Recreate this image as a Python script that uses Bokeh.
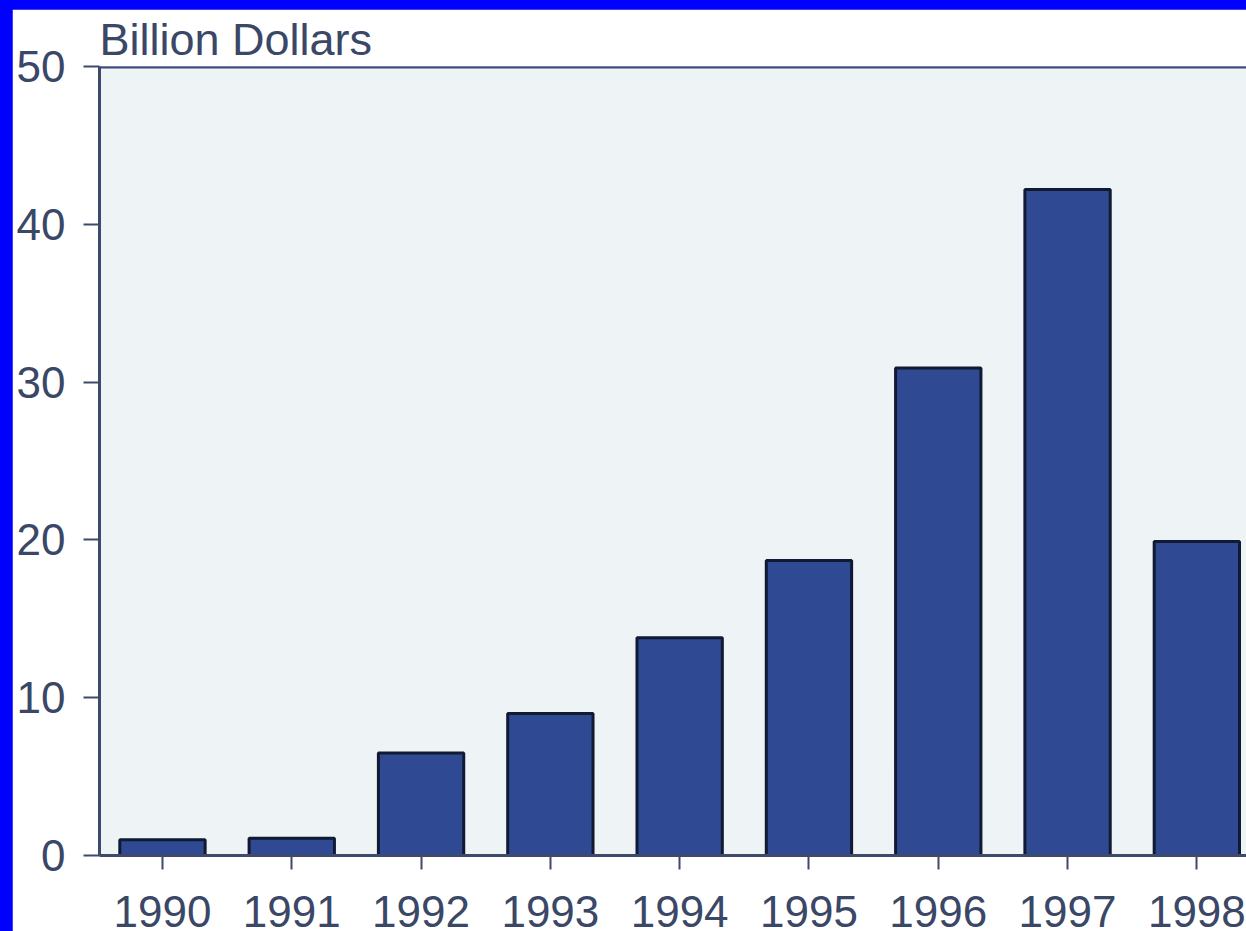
from bokeh.plotting import figure
from bokeh.models import Range1d, FixedTicker, Span, GlobalInlineStyleSheet
from bokeh.embed import file_html
from bokeh.resources import INLINE

years = [1990, 1991, 1992, 1993, 1994, 1995, 1996, 1997, 1998]
year_labels = [str(y) for y in years]
values = [1.0, 1.1, 6.5, 9.0, 13.8, 18.7, 30.9, 42.2, 19.9]
y_ticks = [0, 10, 20, 30, 40, 50]
unit_label = "Billion Dollars"

TEXT = "#3a4766"
AXIS = "#3d4a6b"
FONT = "Liberation Sans"

x_start = years[0] - 0.487
x_end = years[-1] + 0.384

p = figure(width=1234, height=922, output_backend="svg", toolbar_location=None,
           x_range=Range1d(x_start, x_end), y_range=Range1d(0, 50),
           min_border_left=87, min_border_top=57, min_border_right=0, min_border_bottom=76,
           title=unit_label)
p.stylesheets = [GlobalInlineStyleSheet(css="html,body{background:#0000ff;} body{margin:9px 0 0 12px;}")]

p.title.align = "left"
p.title.vertical_align = "top"
p.title.text_font = FONT
p.title.text_font_size = "45px"
p.title.text_font_style = "normal"
p.title.text_color = TEXT
p.title.text_line_height = 0.7
p.title.standoff = 0
p.title.offset = 0

p.background_fill_color = "#eef3f6"
p.border_fill_color = "white"
p.outline_line_color = None
p.grid.visible = False

p.vbar(x=years, top=values, width=0.66, fill_color="#2f4a93",
       line_color="#111a33", line_width=3)

p.add_layout(Span(location=50, dimension="width", line_color=AXIS, line_width=4))

for ax in (p.xaxis[0], p.yaxis[0]):
    ax.axis_line_color = AXIS
    ax.axis_line_width = 3
    ax.major_tick_line_color = AXIS
    ax.major_tick_line_width = 2
    ax.major_tick_in = 0
    ax.minor_tick_line_color = None
    ax.major_label_text_color = TEXT
    ax.major_label_text_font = FONT
    ax.major_label_text_font_size = "44px"

p.yaxis.ticker = FixedTicker(ticks=y_ticks)
p.yaxis.major_tick_out = 16
p.yaxis.major_label_standoff = 18

p.xaxis.ticker = FixedTicker(ticks=years)
p.xaxis.major_label_overrides = {y: s for y, s in zip(years, year_labels)}
p.xaxis.major_tick_out = 14
p.xaxis.major_label_standoff = 26

open("out.html", "w").write(file_html(p, INLINE))
